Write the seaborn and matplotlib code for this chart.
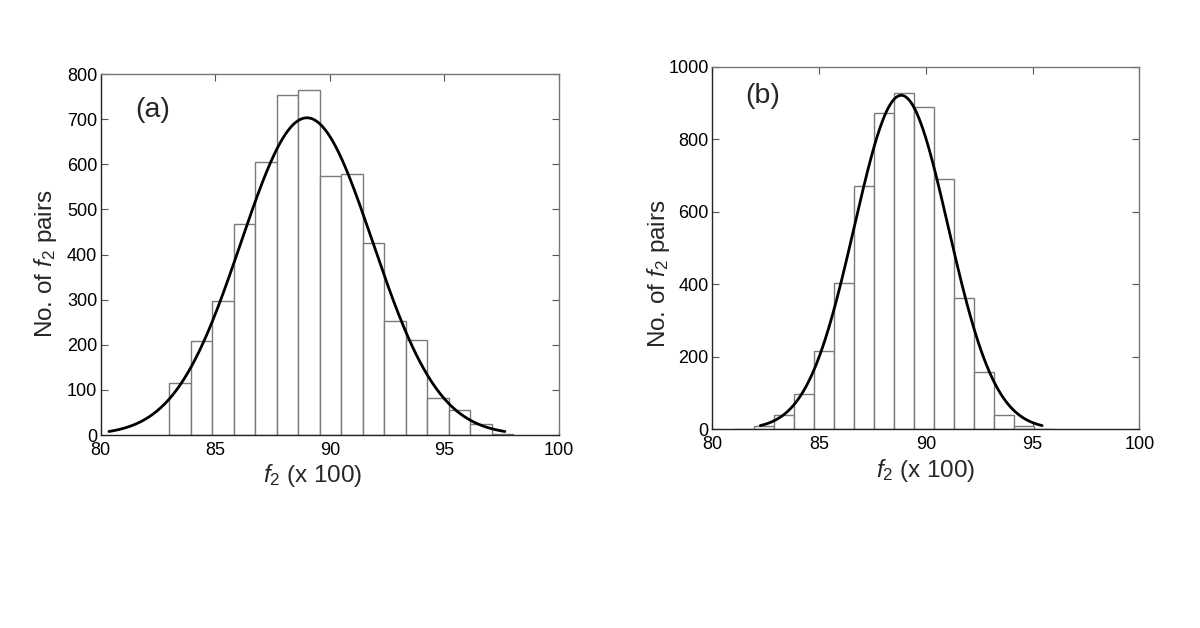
import numpy as np
import pandas as pd
import matplotlib
matplotlib.use("Agg")
import matplotlib.pyplot as plt
import seaborn as sns

# ---------------- data ----------------
bin_width = 0.9375
# panel (a)
a_first_edge = 83.0
a_counts = [116, 209, 298, 467, 604, 753, 765, 575, 578, 425, 253, 210, 81, 55, 24, 2]
a_fit_mean, a_fit_sd, a_fit_peak = 89.0, 2.88, 703
# panel (b)
b_first_edge = 81.0
b_counts = [2, 8, 40, 97, 216, 403, 672, 873, 927, 888, 690, 361, 158, 40, 10, 1]
b_fit_mean, b_fit_sd, b_fit_peak = 88.85, 2.2, 921

x_ticks = [80, 85, 90, 95, 100]
a_yticks = [0, 100, 200, 300, 400, 500, 600, 700, 800]
b_yticks = [0, 200, 400, 600, 800, 1000]
panel_tags = ["(a)", "(b)"]
x_label = r"$\mathit{f}_{2}$ (x 100)"
y_label = r"No. of $\mathit{f}_{2}$ pairs"

# ---------------- style ----------------
sns.set_theme(style="white")
plt.rcParams["font.family"] = ["Liberation Sans", "DejaVu Sans"]
plt.rcParams["mathtext.fontset"] = "custom"
plt.rcParams["mathtext.rm"] = "Liberation Sans"
plt.rcParams["mathtext.it"] = "Liberation Sans:italic"

fig = plt.figure(figsize=(12, 6.28), dpi=100)
ax_a = fig.add_axes([0.0839, 0.3073, 0.3819, 0.5748])
ax_b = fig.add_axes([0.5936, 0.3164, 0.3558, 0.5774])


def draw(ax, first_edge, counts, mean, sd, peak, yticks, ymax, tag, tag_xy,
         xlabel_xy, ylabel_xy):
    n = len(counts)
    edges = first_edge + bin_width * np.arange(n + 1)
    centers = (edges[:-1] + edges[1:]) / 2
    df = pd.DataFrame({"f2": centers, "count": counts})
    sns.histplot(data=df, x="f2", weights="count", bins=n,
                 binrange=(float(edges[0]), float(edges[-1])), ax=ax,
                 color="white", edgecolor="#7a7a7a", linewidth=1.0,
                 alpha=1, stat="count")
    xs = np.linspace(mean - 3 * sd, mean + 3 * sd, 300)
    ys = peak * np.exp(-0.5 * ((xs - mean) / sd) ** 2)
    sns.lineplot(x=xs, y=ys, ax=ax, color="black", linewidth=2.0)
    ax.set_xlim(80, 100)
    ax.set_ylim(0, ymax)
    ax.set_xticks(x_ticks)
    ax.set_yticks(yticks)
    ax.tick_params(direction="in", length=5, width=0.8, colors="#555555",
                   labelcolor="black", labelsize=13, top=True, right=True,
                   bottom=True, left=True)
    ax.tick_params(axis="x", pad=5)
    ax.tick_params(axis="y", pad=2.5)
    for side, sp in ax.spines.items():
        sp.set_visible(True)
        sp.set_linewidth(1.0)
        sp.set_color("#222222" if side in ("left", "bottom") else "#777777")
    ax.set_xlabel(x_label, fontsize=17.5)
    ax.set_ylabel(y_label, fontsize=17.5)
    ax.xaxis.set_label_coords(*xlabel_xy)
    ax.yaxis.set_label_coords(*ylabel_xy)
    ax.text(tag_xy[0], tag_xy[1], tag, fontsize=20.5, ha="center", va="center")
    ax.grid(False)


draw(ax_a, a_first_edge, a_counts, a_fit_mean, a_fit_sd, a_fit_peak,
     a_yticks, 800, panel_tags[0], (82.26, 721),
     (0.463, -0.076), (-0.091, 0.476))
draw(ax_b, b_first_edge, b_counts, b_fit_mean, b_fit_sd, b_fit_peak,
     b_yticks, 1000, panel_tags[1], (82.35, 918),
     (0.5, -0.077), (-0.0946, 0.428))

fig.savefig("out.png", dpi=100, facecolor="white")
